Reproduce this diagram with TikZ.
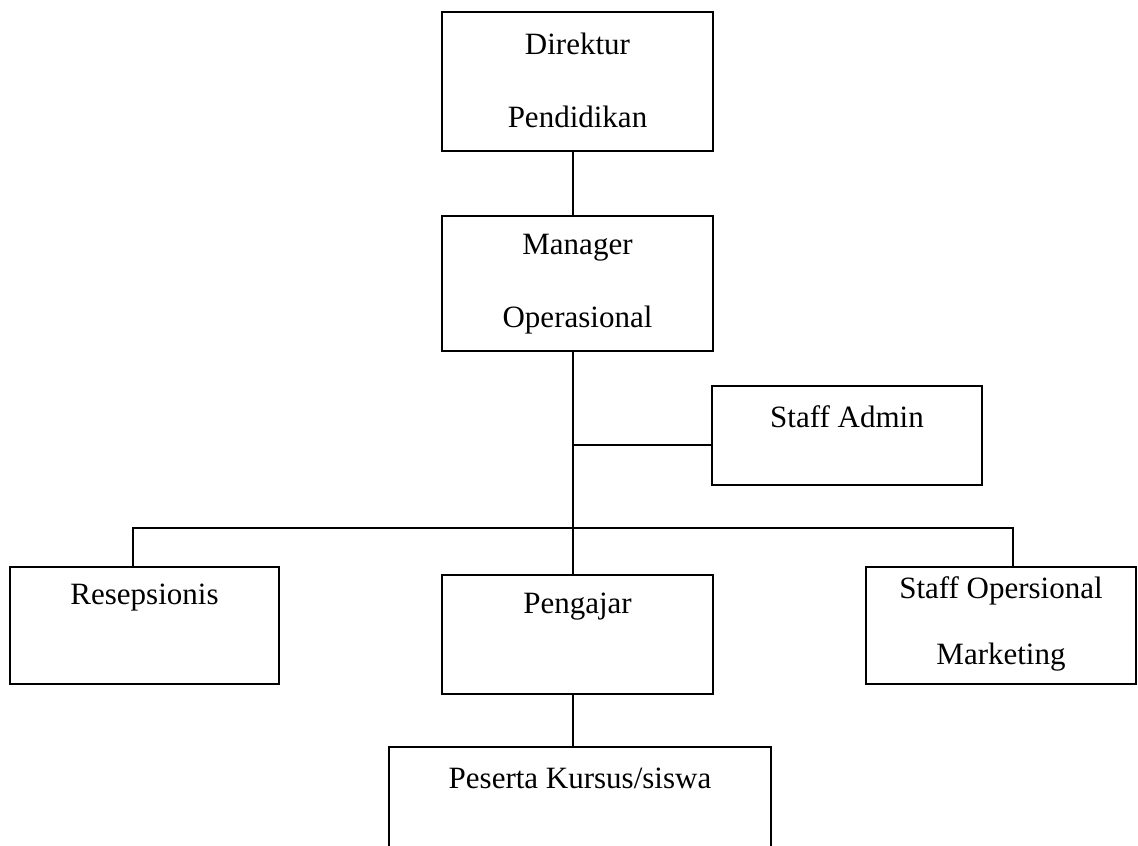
\documentclass[tikz,border=0pt]{standalone}
\usepackage{fontspec}
\setmainfont{Liberation Serif}
\begin{document}
\begin{tikzpicture}[x=1pt,y=-1pt,
  box/.style={draw=black,line width=2pt,rectangle,inner sep=0pt},
  lbl/.style={inner sep=0pt,font=\fontsize{31}{37}\selectfont,anchor=center},
  wire/.style={draw=black,line width=2pt}]
\clip (0,0) rectangle (1138,846);
\fill[white] (0,0) rectangle (1138,846);

% boxes (centre, width, height)
\node[box,minimum width=271pt,minimum height=139pt] (dir)  at (577.5,81.5) {};
\node[box,minimum width=271pt,minimum height=135pt] (mgr)  at (577.5,283) {};
\node[box,minimum width=270pt,minimum height=99pt]  (adm)  at (847,435.5) {};
\node[box,minimum width=269pt,minimum height=117pt] (resp) at (144.5,625.5) {};
\node[box,minimum width=271pt,minimum height=119pt] (peng) at (577.5,634.5) {};
\node[box,minimum width=270pt,minimum height=117pt] (mkt)  at (1001,625.5) {};
\node[box,minimum width=382pt,minimum height=140pt] (pes)  at (580,817) {};

% labels
\node[lbl] (dirA)  at (577.5,44) {Direktur};
\node[lbl] (dirB)  at (577.5,117) {Pendidikan};
\node[lbl] (mgrA)  at (577.5,248) {Manager};
\node[lbl] (mgrB)  at (577.5,320) {Operasional};
\node[lbl] (admA)  at (847,417) {Staff Admin};
\node[lbl] (respA) at (144.5,598) {Resepsionis};
\node[lbl] (pengA) at (577.5,607) {Pengajar};
\node[lbl] (mktA)  at (1001,591) {Staff Opersional};
\node[lbl] (mktB)  at (1001,657) {Marketing};
\node[lbl] (pesA)  at (580,778) {Peserta Kursus/siswa};

% junction points
\coordinate (spine) at (573,0);
\coordinate (admj)  at (573,445);
\coordinate (busL)  at (133,528);
\coordinate (busR)  at (1013,528);

% connectors
\draw[wire] (dir.south -| spine) -- (mgr.north -| spine);
\draw[wire] (mgr.south -| spine) -- (peng.north -| spine);
\draw[wire] (admj) -- (admj -| adm.west);
\draw[wire] (resp.north -| busL) -- (busL) -- (busR) -- (mkt.north -| busR);
\draw[wire] (peng.south -| spine) -- (pes.north -| spine);
\end{tikzpicture}
\end{document}
